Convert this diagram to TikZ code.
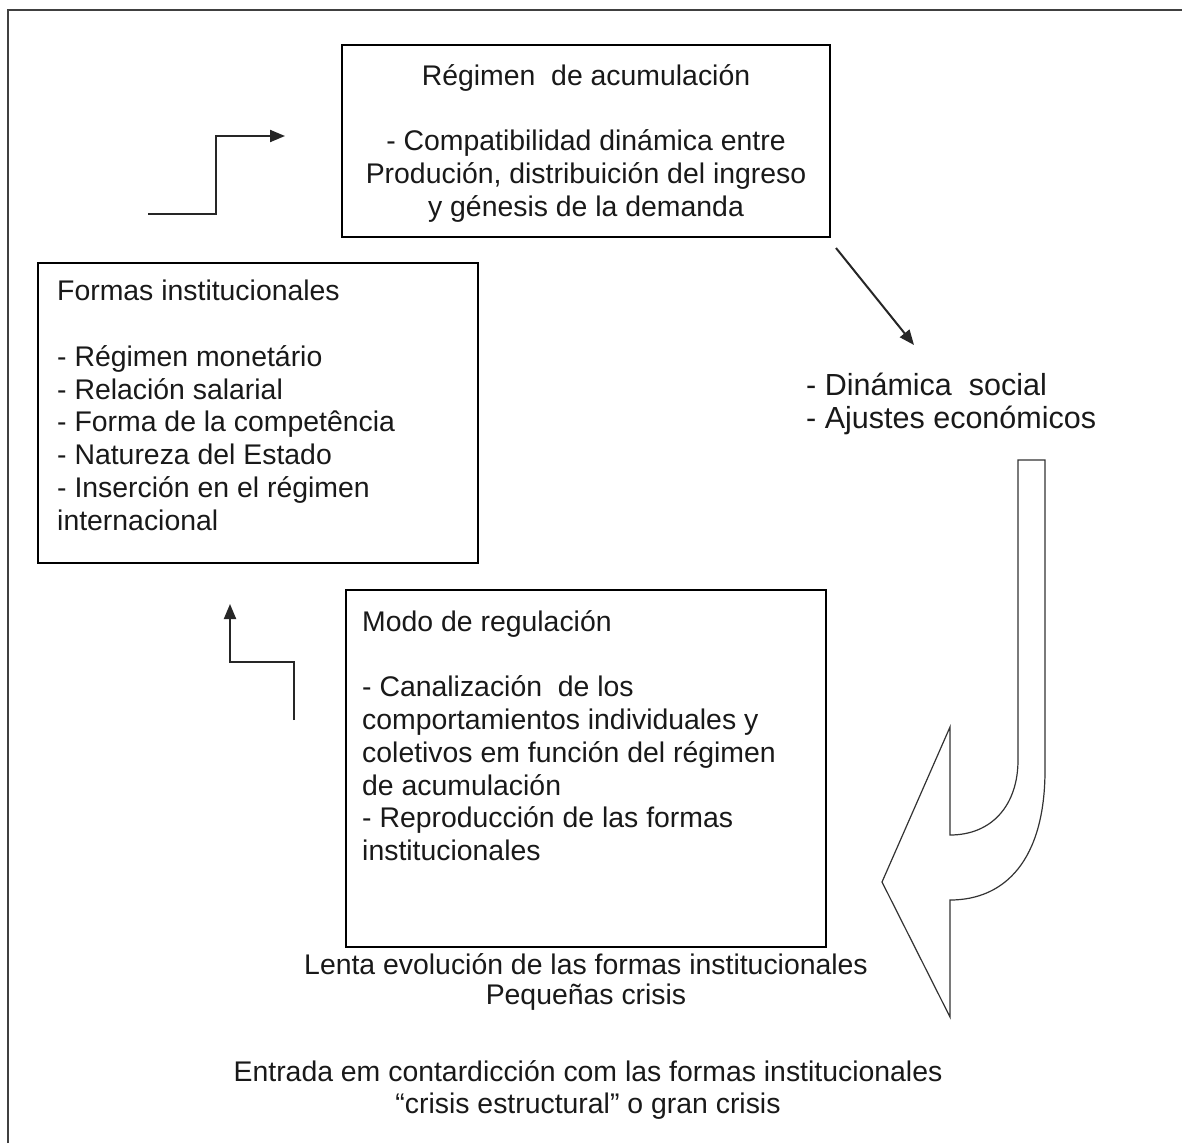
\documentclass[tikz,border=0pt]{standalone}
\usepackage{fontspec}
\setmainfont{Liberation Sans}
\usetikzlibrary{arrows.meta}
\begin{document}
\begin{tikzpicture}[x=1pt,y=-1pt,
  box/.style={draw=black,line width=1.6pt,fill=white,inner sep=0pt},
  txt/.style={inner sep=0pt,font=\fontsize{28.4}{32.8}\selectfont,text=black!90},
  bigtxt/.style={txt,font=\fontsize{30.5}{33}\selectfont},
  flow/.style={draw=black!85,line width=2pt,-{Triangle[length=15pt,width=12pt]}},
  frame/.style={draw=black!75,line width=2.6pt}]
\useasboundingbox (0,0) rectangle (1182,1143);
\fill[white] (0,0) rectangle (1182,1143);
% outer frame, open towards the right and bottom
\draw[frame] (8,1143) -- (8,10) -- (1182,10);

% boxes
\node[box,minimum width=488pt,minimum height=192pt] (reg) at (586,141) {};
\node[box,minimum width=440pt,minimum height=300pt] (form) at (258,413) {};
\node[box,minimum width=480pt,minimum height=357pt] (modo) at (586,768.5) {};

% box texts
\node[txt,align=center,anchor=north] (regt) at (586,64)
  {Régimen\ \ de acumulación\\[32.8pt]
   - Compatibilidad dinámica entre\\
   Produción, distribuición del ingreso\\
   y génesis de la demanda};
\node[txt,align=left,anchor=north west] (formt) at (57,280)
  {Formas institucionales\\[32.8pt]
   - Régimen monetário\\
   - Relación salarial\\
   - Forma de la competência\\
   - Natureza del Estado\\
   - Inserción en el régimen\\
   internacional};
\node[txt,align=left,anchor=north west] (modot) at (362,610)
  {Modo de regulación\\[32.8pt]
   - Canalización \ de los\\
   comportamientos individuales y\\
   coletivos em función del régimen\\
   de acumulación\\
   - Reproducción de las formas\\
   institucionales};

% free labels
\node[bigtxt,align=left,anchor=north west] (din) at (806,373)
  {- Dinámica \ social\\
   - Ajustes económicos};
\node[txt,align=center,anchor=north] (lenta) at (586,953)
  {Lenta evolución de las formas institucionales\\[-2pt]
   Pequeñas crisis};
\node[txt,align=center,anchor=north] (entr) at (588,1060)
  {Entrada em contardicción com las formas institucionales\\
   “crisis estructural” o gran crisis};

% step arrows
\coordinate (s1) at (148,214);
\coordinate (s1e) at (285,136);
\draw[flow] (s1) -- (216,214) -- (216,136) -- (s1e);
\coordinate (s2) at (294,720);
\coordinate (s2e) at (230,604);
\draw[flow] (s2) -- (294,662) -- (230,662) -- (s2e);

% diagonal arrow from the accumulation box towards the social dynamics
\coordinate (d1) at (836,248);
\coordinate (d2) at (914,345);
\draw[flow] (d1) -- (d2);

% large curved block arrow
\draw[black!80,line width=1.2pt,fill=white,line join=miter]
  (1018,460) -- (1045,460) -- (1045,770)
  .. controls (1045,860) and (1005,900) .. (950,900)
  -- (950,1017) -- (882,882) -- (950,727) -- (950,835)
  .. controls (992,835) and (1018,805) .. (1018,760) -- cycle;
\end{tikzpicture}
\end{document}
